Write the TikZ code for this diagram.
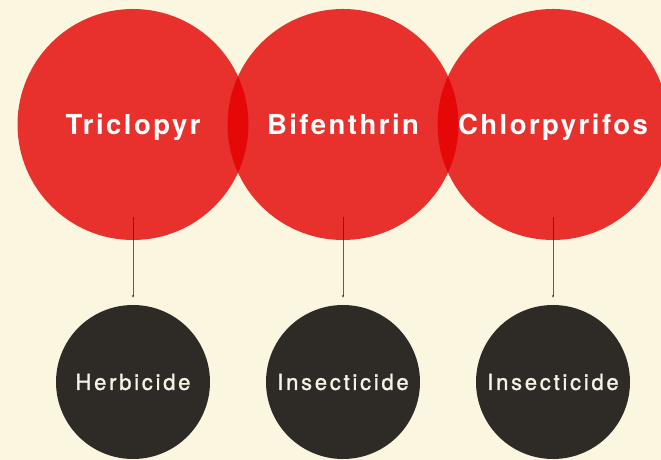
\documentclass[tikz,border=0pt]{standalone}
\usepackage{fontspec}
\setmainfont{TeX Gyre Heros}
\newfontfamily\topfont[LetterSpace=9]{TeX Gyre Heros}
\newfontfamily\botfont[LetterSpace=12.5,FakeBold=1.3]{TeX Gyre Heros}
\usetikzlibrary{arrows.meta}
\definecolor{bg}{RGB}{250,246,224}
\definecolor{redc}{RGB}{228,0,0}
\definecolor{darkc}{RGB}{46,43,38}
\definecolor{lightt}{RGB}{246,242,230}
\tikzset{
  chem/.style={circle, fill=redc, fill opacity=0.8, text opacity=1, text=white,
    minimum size=231pt, inner sep=0pt, font=\topfont\bfseries\fontsize{27.5}{27.5}\selectfont,
    text height=19.8pt, text depth=0pt},
  kind/.style={circle, fill=darkc, text=lightt, minimum size=154pt, inner sep=0pt,
    font=\botfont\fontsize{22}{22}\selectfont, text height=15.8pt, text depth=0pt},
  conn/.style={draw=darkc, draw opacity=0.75, line width=0.9pt, -{Latex[length=2.5pt,width=2.5pt]}}
}
\begin{document}
\begin{tikzpicture}[x=1pt,y=1pt]
\fill[bg] (0,0) rectangle (661,460);
\useasboundingbox (0,0) rectangle (661,460);
\begin{scope}
\clip (0,0) rectangle (661,460);
\node[chem] (t1) at (133,335.5) {Triclopyr};
\node[chem] (t2) at (343,335.5) {Bifenthrin};
\node[chem] (t3) at (553,335.5) {Chlorpyrifos};
\node[kind] (k1) at (133,78) {Herbicide};
\node[kind] (k2) at (343,78) {Insecticide};
\node[kind] (k3) at (553,78) {Insecticide};
\draw[conn] ([yshift=23pt]t1.south) -- ([yshift=7pt]k1.north);
\draw[conn] ([yshift=23pt]t2.south) -- ([yshift=7pt]k2.north);
\draw[conn] ([yshift=23pt]t3.south) -- ([yshift=7pt]k3.north);
\end{scope}
\end{tikzpicture}
\end{document}
